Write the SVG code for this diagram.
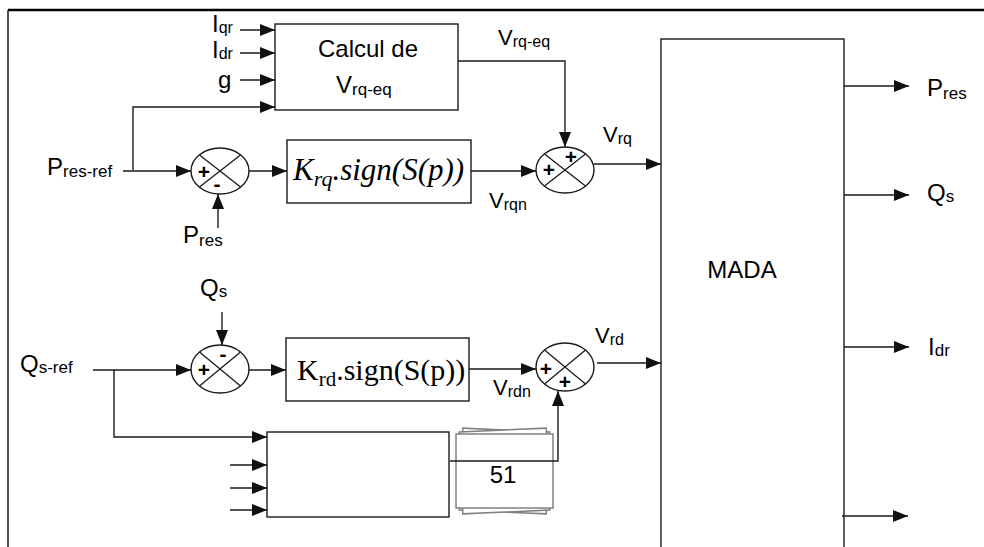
<svg xmlns="http://www.w3.org/2000/svg" width="984" height="547" viewBox="0 0 984 547">
<defs>
<marker id="ah" markerUnits="userSpaceOnUse" markerWidth="15" markerHeight="12" refX="15" refY="6" orient="auto"><path d="M0,0 L15,6 L0,12 z" fill="#111"/></marker>
</defs>
<style>
.ln{fill:none;stroke:#1a1a1a;stroke-width:1.4}
.ar{marker-end:url(#ah)}
.box{fill:#fff;stroke:#1a1a1a;stroke-width:1.4}
.sum{fill:#fff;stroke:#1a1a1a;stroke-width:1.4}
.x{fill:none;stroke:#1a1a1a;stroke-width:1.3}
.t{font-family:"Liberation Sans",Arial,sans-serif;font-size:24px;fill:#000}
.s{font-size:17px}
.v{font-size:22px}
.vs{font-size:16px}
.pm{font-family:"Liberation Sans",Arial,sans-serif;font-size:21px;font-weight:bold;text-anchor:middle;fill:#000}
.g51{fill:#fff;stroke:#808080;stroke-width:1.5}
</style>
<rect width="984" height="547" fill="#fff"/>
<g id="frame">
<line x1="8" y1="10" x2="984" y2="10" stroke="#000" stroke-width="2.5"/>
<line x1="8" y1="10" x2="8" y2="547" stroke="#1a1a1a" stroke-width="1.5"/>
</g>

<g id="calcul">
<rect class="box" x="275" y="24" width="183" height="86"/>
<text class="t" x="368" y="57" text-anchor="middle" font-size="22">Calcul de</text>
<text class="t" x="336" y="93" font-size="23">V<tspan font-size="17" dy="2">rq-eq</tspan></text>
</g>

<g id="sum1">
<ellipse class="sum" cx="220" cy="171" rx="29" ry="23"/>
<path class="x" d="M199.5,155 L240.5,187 M199.5,187 L240.5,155"/>
<text class="pm" x="204" y="179">+</text>
<text class="pm" x="217" y="191">-</text>
</g>

<g id="krq">
<rect class="box" x="287" y="140" width="184" height="63"/>
<text x="293" y="180" font-family="'Liberation Serif','DejaVu Serif',serif" font-style="italic" font-size="31">K<tspan font-size="22" dy="6">rq</tspan><tspan dy="-6">.sign(S(p))</tspan></text>
</g>

<g id="sum2">
<ellipse class="sum" cx="565" cy="170" rx="29" ry="23"/>
<path class="x" d="M544.5,154 L585.5,186 M544.5,186 L585.5,154"/>
<text class="pm" x="549" y="177">+</text>
<text class="pm" x="571" y="164">+</text>
</g>

<g id="sum3">
<ellipse class="sum" cx="220" cy="369" rx="29" ry="24"/>
<path class="x" d="M199.5,352 L240.5,386 M199.5,386 L240.5,352"/>
<text class="pm" x="204" y="377">+</text>
<text class="pm" x="223" y="361">-</text>
</g>

<g id="krd">
<rect class="box" x="286" y="338" width="183" height="63"/>
<text x="297" y="380" font-family="'Liberation Serif','DejaVu Serif',serif" font-size="30">K<tspan font-size="21" dy="6">rd</tspan><tspan dy="-6">.sign(S(p))</tspan></text>
</g>

<g id="sum4">
<ellipse class="sum" cx="565" cy="367" rx="29" ry="24"/>
<path class="x" d="M544.5,350 L585.5,384 M544.5,384 L585.5,350"/>
<text class="pm" x="546" y="376">+</text>
<text class="pm" x="565" y="389">+</text>
</g>

<g id="lowerbox">
<rect class="box" x="267" y="432" width="182" height="85"/>
</g>

<g id="box51">
<rect class="g51" x="461" y="430" width="87" height="82" transform="rotate(2.5 504.5 471)"/>
<rect class="g51" x="461" y="430" width="87" height="82" transform="rotate(-2.5 504.5 471)"/>
<rect class="g51" x="456" y="434" width="97" height="74"/>
<text class="t" x="503" y="483" text-anchor="middle" font-size="25">51</text>
</g>

<g id="mada">
<rect class="box" x="661" y="39" width="183" height="530"/>
<text class="t" x="742" y="278" text-anchor="middle" font-size="23">MADA</text>
</g>

<g id="labels">
<text class="t" x="212" y="32" font-size="22">I<tspan font-size="16" dy="1">qr</tspan></text>
<text class="t" x="212" y="58" font-size="22">I<tspan font-size="16" dy="1">dr</tspan></text>
<text class="t" x="218" y="88">g</text>
<text class="t v" x="498" y="45">V<tspan class="vs" dy="2">rq-eq</tspan></text>
<text class="t" x="47" y="175">P<tspan class="s" dy="2">res-ref</tspan></text>
<text class="t" x="183" y="243">P<tspan class="s" dy="3">res</tspan></text>
<text class="t v" x="603" y="142">V<tspan class="vs" dy="2">rq</tspan></text>
<text class="t v" x="489" y="208">V<tspan class="vs" dy="2">rqn</tspan></text>
<text class="t" x="200" y="296">Q<tspan class="s" dy="1">s</tspan></text>
<text class="t" x="20" y="372">Q<tspan class="s" dy="1">s-ref</tspan></text>
<text class="t v" x="595" y="343">V<tspan class="vs" dy="2">rd</tspan></text>
<text class="t v" x="493" y="395">V<tspan class="vs" dy="2">rdn</tspan></text>
<text class="t" x="927" y="96">P<tspan class="s" dy="3">res</tspan></text>
<text class="t" x="927" y="201">Q<tspan class="s" dy="1">s</tspan></text>
<text class="t" x="928" y="355">I<tspan class="s" dy="1">dr</tspan></text>
</g>

<g id="connectors">
<line class="ln ar" x1="240" y1="30" x2="275" y2="30"/>
<line class="ln ar" x1="240" y1="53" x2="275" y2="53"/>
<line class="ln ar" x1="240" y1="80" x2="275" y2="80"/>
<polyline class="ln ar" points="133,170 133,107 275,107"/>
<line class="ln ar" x1="123" y1="171" x2="191" y2="171"/>
<line class="ln ar" x1="218" y1="228" x2="218" y2="194"/>
<line class="ln ar" x1="249" y1="171" x2="287" y2="171"/>
<line class="ln ar" x1="471" y1="171" x2="536" y2="171"/>
<polyline class="ln ar" points="458,61 565,61 565,147"/>
<line class="ln ar" x1="594" y1="164" x2="661" y2="164"/>
<line class="ln ar" x1="222" y1="312" x2="222" y2="345"/>
<line class="ln ar" x1="93" y1="370" x2="191" y2="370"/>
<line class="ln ar" x1="249" y1="370" x2="286" y2="370"/>
<line class="ln ar" x1="469" y1="369" x2="536" y2="369"/>
<line class="ln ar" x1="597" y1="363" x2="661" y2="363"/>
<polyline class="ln ar" points="114,370 114,437 267,437"/>
<line class="ln ar" x1="230" y1="465" x2="267" y2="465"/>
<line class="ln ar" x1="230" y1="488" x2="267" y2="488"/>
<line class="ln ar" x1="230" y1="510" x2="267" y2="510"/>
<polyline class="ln ar" points="450,461 558,461 558,391"/>
<line class="ln ar" x1="844" y1="86" x2="909" y2="86"/>
<line class="ln ar" x1="844" y1="195" x2="909" y2="195"/>
<line class="ln ar" x1="844" y1="347" x2="909" y2="347"/>
<line class="ln ar" x1="842" y1="516" x2="908" y2="516"/>
</g>
</svg>
